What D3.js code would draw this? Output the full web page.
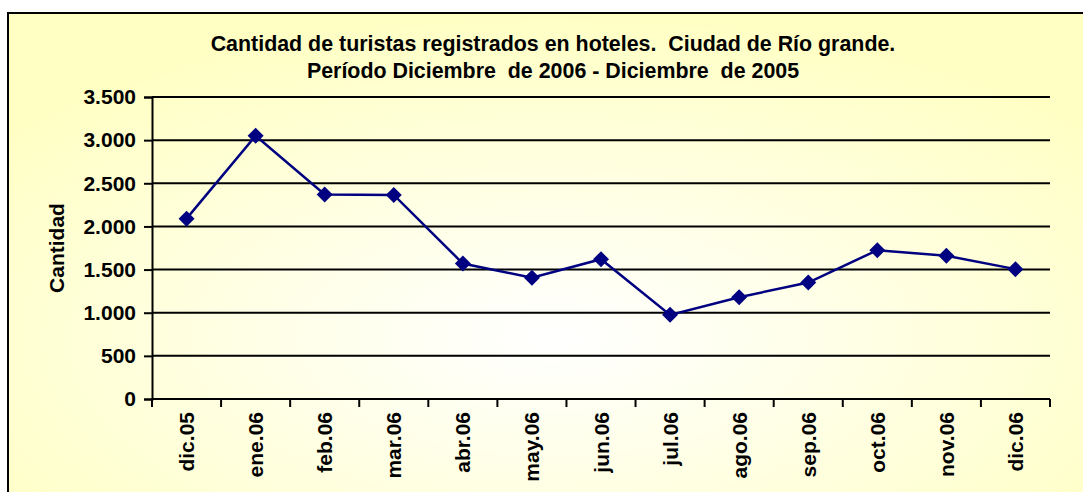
<!DOCTYPE html>
<html>
<head>
<meta charset="utf-8">
<script src="https://cdn.jsdelivr.net/npm/d3@7"></script>
<style>
  body { margin: 0; background: #fff; }
  svg { display: block; font-family: "Liberation Sans", Arial, sans-serif; font-weight: bold; }
</style>
</head>
<body>
<svg class="chart" width="1083" height="492"></svg>
<script>
var categories = ["dic.05","ene.06","feb.06","mar.06","abr.06","may.06","jun.06","jul.06","ago.06","sep.06","oct.06","nov.06","dic.06"];
var turistas = [2090, 3050, 2370, 2365, 1570, 1405, 1620, 975, 1180, 1350, 1725, 1660, 1505];
var yTicks = [0, 500, 1000, 1500, 2000, 2500, 3000, 3500];
var titleLines = ["Cantidad de turistas registrados en hoteles.  Ciudad de Río grande.",
                  "Período Diciembre  de 2006 - Diciembre  de 2005"];
var yLabel = "Cantidad";

var svg = d3.select('.chart');
var margin = {top: 97, left: 152, right: 1050, bottom: 399};
var fs = 21;

var locale = d3.formatLocale({decimal: ",", thousands: ".", grouping: [3], currency: ["$", ""]});
var fmt = locale.format(",d");

// background with soft yellow gradient
var defs = svg.append('defs');
var grad = defs.append('radialGradient')
	.attr('id', 'bg')
	.attr('cx', '50%').attr('cy', '65%').attr('r', '65%');
grad.append('stop').attr('offset', '0%').attr('stop-color', '#ffffff');
grad.append('stop').attr('offset', '100%').attr('stop-color', '#ffffc4');

svg.append('rect')
	.attr('x', 8).attr('y', 13)
	.attr('width', 1090).attr('height', 500)
	.attr('fill', 'url(#bg)')
	.attr('stroke', '#000')
	.attr('stroke-width', 2);

var x = d3.scaleBand()
	.domain(categories)
	.range([margin.left, margin.right])
	.padding(0);
var y = d3.scaleLinear()
	.domain([0, 3500])
	.range([margin.bottom, margin.top]);

// title
svg.append('g').selectAll('text')
	.data(titleLines)
	.enter().append('text')
	.attr('x', 553)
	.attr('y', function(d, i){ return 51 + i * 27; })
	.attr('text-anchor', 'middle')
	.style('white-space', 'pre')
	.attr('font-size', 21.4)
	.text(function(d){ return d; });

// gridlines
svg.append('g').selectAll('line')
	.data(yTicks.filter(function(d){ return d > 0; }))
	.enter().append('line')
	.attr('x1', margin.left).attr('x2', margin.right)
	.attr('y1', function(d){ return y(d); })
	.attr('y2', function(d){ return y(d); })
	.attr('stroke', '#000')
	.attr('stroke-width', 2);

// y axis
var yAxis = d3.axisLeft(y).tickValues(yTicks).tickSize(8).tickPadding(8).tickFormat(fmt);
var gy = svg.append('g')
	.attr('transform', 'translate(' + margin.left + ',0)')
	.call(yAxis);
gy.select('.domain').attr('stroke', '#000').attr('stroke-width', 2);
gy.selectAll('.tick line').attr('stroke', '#000').attr('stroke-width', 2);
gy.selectAll('.tick text')
	.attr('font-size', fs)
	.attr('font-family', '"Liberation Sans", Arial, sans-serif')
	.attr('font-weight', 'bold')
	.attr('fill', '#000');

// x axis
var xAxis = d3.axisBottom(x).tickSize(0).tickPadding(0);
var gx = svg.append('g')
	.attr('transform', 'translate(0,' + margin.bottom + ')')
	.call(xAxis);
gx.select('.domain').remove();
gx.append('line')
	.attr('x1', margin.left).attr('x2', margin.right)
	.attr('stroke', '#000').attr('stroke-width', 2);
gx.selectAll('.tick text')
	.attr('font-size', fs)
	.attr('font-family', '"Liberation Sans", Arial, sans-serif')
	.attr('font-weight', 'bold')
	.attr('fill', '#000')
	.attr('text-anchor', 'end')
	.attr('dy', null)
	.attr('y', 0)
	.attr('transform', 'translate(0,13) rotate(-90)')
	.attr('dx', 0)
	.attr('dominant-baseline', 'central');
var bounds = categories.map(function(c){ return x(c); }).concat([margin.right]);
gx.selectAll('.bt')
	.data(bounds)
	.enter().append('line')
	.attr('class', 'bt')
	.attr('x1', function(d){ return d; }).attr('x2', function(d){ return d; })
	.attr('y1', 0).attr('y2', 8)
	.attr('stroke', '#000').attr('stroke-width', 2);

// y label
svg.append('text')
	.attr('transform', 'translate(64,248) rotate(-90)')
	.attr('text-anchor', 'middle')
	.attr('font-size', fs)
	.text(yLabel);

// line and markers
var cx = function(d, i){ return x(categories[i]) + x.bandwidth() / 2; };
var line = d3.line()
	.x(cx)
	.y(function(d){ return y(d); });
svg.append('path')
	.datum(turistas)
	.attr('d', line)
	.attr('fill', 'none')
	.attr('stroke', '#000080')
	.attr('stroke-width', 2.5);
svg.append('g').selectAll('path')
	.data(turistas)
	.enter().append('path')
	.attr('d', 'M0,-8L8,0L0,8L-8,0Z')
	.attr('transform', function(d, i){ return 'translate(' + cx(d, i) + ',' + y(d) + ')'; })
	.attr('fill', '#000080');
</script>
</body>
</html>
